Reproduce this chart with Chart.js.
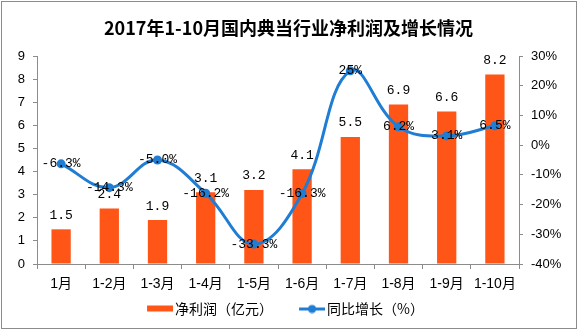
<!DOCTYPE html>
<html>
<head>
<meta charset="utf-8">
<script src="https://cdn.jsdelivr.net/npm/chart.js@4/dist/chart.umd.min.js"></script>
<style>
  html, body { margin: 0; padding: 0; background: #fff; }
  #wrap { position: relative; width: 577px; height: 333px; }
  #frame { position: absolute; left: 1px; top: 1px; width: 574px; height: 326px; border: 1px solid #8c8c8c; pointer-events: none; }
  canvas { position: absolute; left: 0; top: 0; }
</style>
</head>
<body>
<div id="wrap">
  <canvas id="c" width="577" height="333"></canvas>
  <div id="frame"></div>
</div>
<script>
// ---- data ----
const titleText = '2017年1-10月国内典当行业净利润及增长情况';
const categories = ['1月', '1-2月', '1-3月', '1-4月', '1-5月', '1-6月', '1-7月', '1-8月', '1-9月', '1-10月'];
const netProfit = [1.5, 2.4, 1.9, 3.1, 3.2, 4.1, 5.5, 6.9, 6.6, 8.2];           // 亿元
const growth = [-6.3, -14.3, -5.0, -16.2, -33.3, -16.3, 25, 6.2, 3.1, 6.5];     // %
const growthText = ['-6.3%', '-14.3%', '-5.0%', '-16.2%', '-33.3%', '-16.3%', '25%', '6.2%', '3.1%', '6.5%'];
const seriesNames = ['净利润（亿元）', '同比增长（%）'];
const leftTicks = { min: 0, max: 9, step: 1 };
const rightTicks = { min: -40, max: 30, step: 10 };

// ---- styles ----
const ORANGE = '#FF5516';
const BLUE = '#1F7DD4';
const AXIS = '#8c8c8c';
const tickFont = { family: "'Liberation Sans', 'Noto Sans CJK SC', sans-serif", size: 13 };
const labelFont = "13px 'Liberation Mono', 'DejaVu Sans Mono', monospace";

// legend icons: transparent lead-in on the left gives the spacing between items
function makeIcon(kind) {
  const cv = document.createElement('canvas');
  const g = cv.getContext('2d');
  cv.width = 46; cv.height = 10;
  if (kind === 'bar') {
    g.fillStyle = ORANGE; g.fillRect(20, 2, 26, 6);
  } else {
    g.fillStyle = BLUE; g.fillRect(20, 4, 26, 3);
    g.beginPath(); g.arc(33, 5.5, 4, 0, Math.PI * 2); g.fill();
  }
  return cv;
}
const icons = [makeIcon('bar'), makeIcon('line')];

const valueLabels = {
  id: 'valueLabels',
  afterDatasetsDraw(chart) {
    const ctx = chart.ctx;
    ctx.save();
    ctx.font = labelFont;
    ctx.fillStyle = '#000';
    ctx.textAlign = 'center';
    ctx.textBaseline = 'middle';
    chart.getDatasetMeta(0).data.forEach((el, i) => {
      ctx.fillText(netProfit[i].toFixed(1), el.x, el.y - 14);
    });
    chart.getDatasetMeta(1).data.forEach((el, i) => {
      ctx.fillText(growthText[i], el.x, el.y);
    });
    ctx.restore();
  }
};

new Chart(document.getElementById('c'), {
  data: {
    labels: categories,
    datasets: [
      {
        type: 'bar', label: seriesNames[0], data: netProfit, yAxisID: 'y', order: 2,
        backgroundColor: ORANGE, borderWidth: 0,
        categoryPercentage: 1.0, barPercentage: 0.4
      },
      {
        type: 'line', label: seriesNames[1], data: growth, yAxisID: 'y1', order: 1,
        borderColor: BLUE, backgroundColor: BLUE, borderWidth: 3, tension: 0.4,
        pointRadius: 4.5, pointBackgroundColor: BLUE, pointBorderWidth: 0, fill: false
      }
    ]
  },
  options: {
    responsive: false,
    animation: false,
    devicePixelRatio: 1,
    layout: { padding: { left: 0, right: 0, top: 0, bottom: 7.5 } },
    plugins: {
      tooltip: { enabled: false },
      title: {
        display: true, text: titleText, color: '#000',
        font: { family: "'Noto Sans CJK SC', sans-serif", size: 18, weight: 'bold' },
        padding: { top: 17, bottom: 17.4 }
      },
      legend: {
        display: true, position: 'bottom', fullSize: false,
        labels: {
          usePointStyle: true, pointStyleWidth: 36, padding: 11, color: '#000',
          font: { family: "'Noto Sans CJK SC', sans-serif", size: 14 },
          generateLabels(chart) {
            return chart.data.datasets.map((ds, i) => ({
              text: ds.label, pointStyle: icons[i], fillStyle: i === 0 ? ORANGE : BLUE,
              strokeStyle: i === 0 ? ORANGE : BLUE, lineWidth: 0, hidden: false, datasetIndex: i
            }));
          }
        }
      }
    },
    scales: {
      x: {
        type: 'category',
        grid: { display: true, offset: true, drawOnChartArea: false, drawTicks: true, tickLength: 5, color: AXIS },
        border: { display: true, color: AXIS, width: 1 },
        ticks: { color: '#000', font: { family: "'Liberation Sans', 'Noto Sans CJK SC', sans-serif", size: 14 }, padding: 7, maxRotation: 0, autoSkip: false },
        afterFit(s) { s.height = 26.5; }
      },
      y: {
        position: 'left', min: leftTicks.min, max: leftTicks.max,
        grid: { display: true, drawOnChartArea: false, drawTicks: true, tickLength: 4, color: AXIS },
        border: { display: true, color: AXIS, width: 1 },
        ticks: { stepSize: leftTicks.step, color: '#000', font: tickFont, padding: 8 },
        afterFit(s) { s.width = 37; }
      },
      y1: {
        position: 'right', min: rightTicks.min, max: rightTicks.max,
        grid: { display: true, drawOnChartArea: false, drawTicks: true, tickLength: 4, color: AXIS },
        border: { display: true, color: AXIS, width: 1 },
        ticks: { stepSize: rightTicks.step, color: '#000', font: tickFont, padding: 8, callback: v => v + '%' },
        afterFit(s) { s.width = 58; }
      }
    }
  },
  plugins: [valueLabels]
});
</script>
</body>
</html>
